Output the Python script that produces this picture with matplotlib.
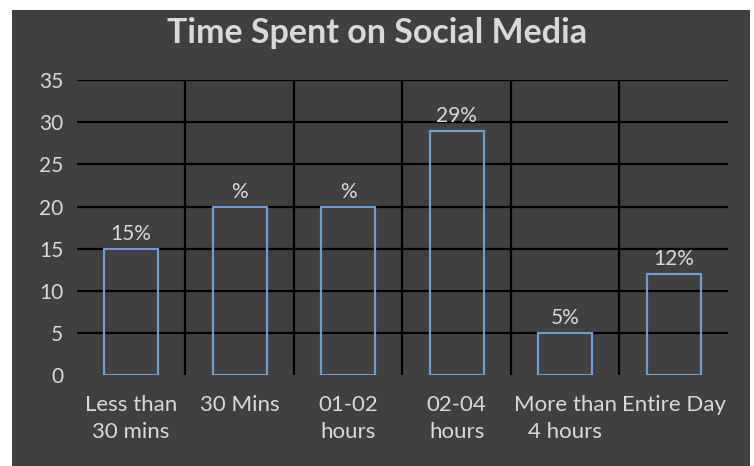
import numpy as np
import matplotlib.pyplot as plt
import matplotlib.patches as mpatches

categories = ['Less than\n30 mins', '30 Mins', '01-02\nhours', '02-04\nhours',
              'More than\n4 hours', 'Entire Day']
values = [15, 20, 20, 29, 5, 12]
bar_labels = ['15%', '%', '%', '29%', '5%', '12%']
yticks = [0, 5, 10, 15, 20, 25, 30, 35]

plt.rcParams['font.family'] = ['Lato', 'DejaVu Sans']
txt = '#d9d9d9'
bg = '#404040'

fig = plt.figure(figsize=(7.54, 4.66), dpi=100, facecolor='white')
fig.patches.append(mpatches.Rectangle((12 / 754, 0), 738 / 754, 1 - 10 / 466,
                                      transform=fig.transFigure, facecolor=bg,
                                      edgecolor='none', zorder=-10))

ax = fig.add_axes([0.102, 0.195, 0.8635, 0.633])
ax.set_facecolor('none')
x = np.arange(len(categories))

# gridlines (horizontal, skipping zero) and category separators
for t in yticks[1:]:
    ax.axhline(t, color='black', lw=1.6, zorder=1)
for b in x[:-1] + 0.5:
    ax.plot([b, b], [0, 35], color='black', lw=1.6, zorder=1)

bars = ax.bar(x, values, width=0.5, facecolor='none', edgecolor='#6e9bd0', lw=1.6, zorder=2)
for xi, v, lab in zip(x, values, bar_labels):
    ax.text(xi, v + 0.55, lab, ha='center', va='bottom', color=txt, fontsize=15)

ax.set_xlim(-0.5, len(categories) - 0.5)
ax.set_ylim(0, 35)
ax.set_yticks(yticks)
ax.set_xticks(x)
ax.set_xticklabels(categories, linespacing=1.45)
ax.tick_params(axis='both', length=0, colors=txt, labelsize=15)
ax.tick_params(axis='x', labelsize=16, pad=14)
ax.tick_params(axis='y', pad=10)
for s in ax.spines.values():
    s.set_visible(False)

fig.text(0.5, 0.929, 'Time Spent on Social Media', ha='center', va='center',
         color=txt, fontsize=24.5, fontweight='bold')

fig.savefig('out.png', dpi=100, facecolor=fig.get_facecolor())
